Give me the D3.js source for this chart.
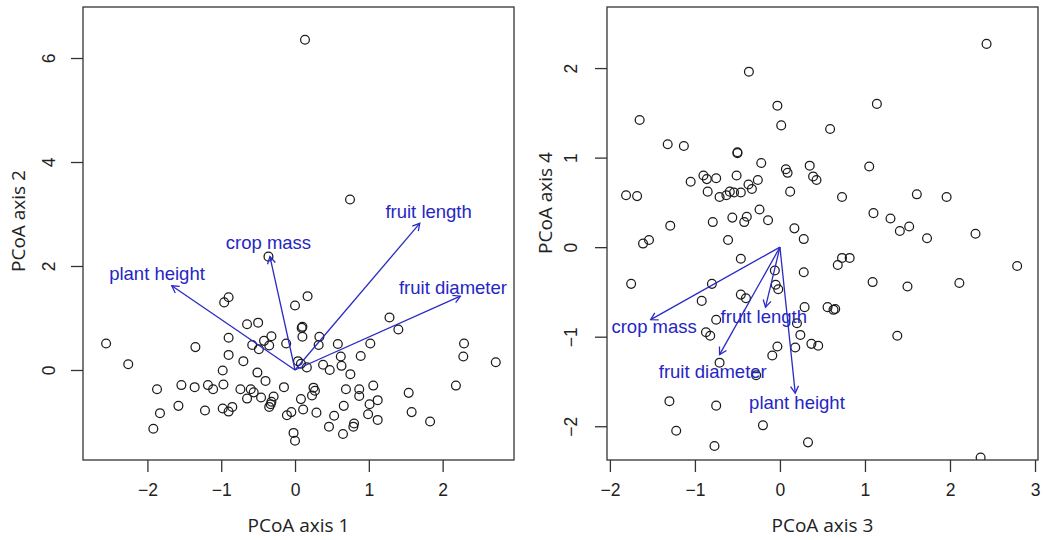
<!DOCTYPE html>
<html>
<head>
<meta charset="utf-8">
<script src="https://cdn.jsdelivr.net/npm/d3@7"></script>
<style>
  body { margin: 0; background: #fff; }
  svg { display: block; }
  .tick-label { font-family: "Liberation Sans", Arial, sans-serif; font-size: 17.5px; fill: #222; }
  .axis-title { font-family: "Open Sans", sans-serif; font-size: 19px; fill: #222; }
  .vec-label { font-family: "Liberation Sans", Arial, sans-serif; font-size: 18.5px; fill: #2626c4; }
</style>
</head>
<body>
<div id="chart"></div>
<script>
// PCoA axis 1 / axis 2 site scores
const pc1 = [0.135, 0.745, -0.36, -0.90, -0.96, 0.00, 0.17, -0.65, -0.50, 0.10, 0.09, 0.10, 0.33, 1.28, 1.40,
  -2.56, -1.35, -0.90, -0.32, -0.42, -0.58, -0.49, -0.35, -0.12, 0.32, 0.58, 1.02, 2.29, 0.62, 0.89, 2.28, 2.72,
  -0.90, -0.70, 0.04, 0.08, -2.26, -0.98, -0.51, 0.16, 0.38, 0.47, 0.63, 0.75, -0.40,
  -1.87, -1.54, -1.36, -1.18, -1.11, -0.97, -0.74, -0.60, -0.56, -0.15, 0.25, 0.27, 0.69, 0.87, 1.06, 1.54, 2.18,
  -0.65, -0.46, -0.29, -0.32, -0.33, -0.35, 0.08, 0.23, 0.87, 1.12, 1.01,
  -1.58, -1.22, -0.98, -0.90, -0.85, -0.11, -0.05, 0.11, 0.29, 0.53, 0.66, 0.99, 1.12, 1.58, 1.83, -1.83,
  -1.92, 0.46, 0.79, 0.80, 0.65, -0.02, 0.00];
const pc2 = [6.35, 3.28, 2.18, 1.40, 1.30, 1.24, 1.42, 0.88, 0.91, 0.83, 0.81, 0.64, 0.64, 1.01, 0.78,
  0.51, 0.44, 0.62, 0.65, 0.56, 0.48, 0.40, 0.47, 0.51, 0.48, 0.50, 0.51, 0.51, 0.26, 0.27, 0.26, 0.15,
  0.29, 0.17, 0.17, 0.12, 0.11, -0.01, -0.05, 0.05, 0.10, 0.00, 0.08, -0.08, -0.21,
  -0.37, -0.29, -0.33, -0.29, -0.37, -0.28, -0.37, -0.37, -0.43, -0.33, -0.34, -0.40, -0.37, -0.37, -0.30, -0.44, -0.30,
  -0.55, -0.53, -0.51, -0.61, -0.66, -0.71, -0.56, -0.49, -0.50, -0.58, -0.66,
  -0.69, -0.78, -0.74, -0.80, -0.71, -0.87, -0.81, -0.76, -0.82, -0.88, -0.69, -0.85, -0.96, -0.81, -0.99, -0.83,
  -1.13, -1.09, -1.09, -1.03, -1.23, -1.21, -1.36];

// PCoA axis 3 / axis 4 site scores
const pc3 = [2.43, -0.365, -0.03, 1.14, -1.65, 0.015, 0.59, -1.32, -1.13, -0.50, -0.50, -0.22, 0.07, 0.09, 0.35,
  0.39, 0.43, 1.05, -0.90, -0.86, -0.75, -0.51, -1.05, -0.26, -0.37, -0.33, -0.85, 0.12, -0.59, -0.54, -0.46,
  -0.63, -0.71, -1.81, -1.68, 0.73, 1.61, 1.96,
  -0.24, 1.10, 1.30, 1.41, 1.52, 1.73, 2.30, -1.29, -0.79, -0.56, -0.39, -0.42, -0.14, 0.17, 0.28, -0.61,
  -1.61, -1.54, -0.46, 0.73, 0.82, 0.68, -0.06, 0.28, 2.79, -1.75, -0.80, -0.05, -0.02, 1.09, 1.50, 2.11,
  -0.46, -0.40, -0.92, 0.29, 0.56, 0.63, 0.65, -0.75, 0.20, -0.87, -0.82, 0.24, 1.38, -0.03, 0.18, 0.37, 0.45,
  -0.09, -0.71, -0.28, -1.30, -0.75, -0.20, -1.22, -0.77, 0.33, 2.36];
const pc4 = [2.27, 1.96, 1.58, 1.60, 1.42, 1.36, 1.32, 1.15, 1.13, 1.05, 1.06, 0.94, 0.87, 0.83, 0.91,
  0.79, 0.75, 0.90, 0.80, 0.76, 0.77, 0.80, 0.73, 0.75, 0.70, 0.65, 0.62, 0.62, 0.62, 0.61, 0.61,
  0.58, 0.56, 0.58, 0.57, 0.56, 0.59, 0.56,
  0.42, 0.38, 0.32, 0.18, 0.23, 0.10, 0.15, 0.24, 0.28, 0.33, 0.34, 0.28, 0.30, 0.21, 0.09, 0.08,
  0.04, 0.08, -0.13, -0.12, -0.12, -0.20, -0.26, -0.28, -0.21, -0.41, -0.41, -0.42, -0.47, -0.39, -0.44, -0.40,
  -0.53, -0.57, -0.60, -0.67, -0.67, -0.70, -0.69, -0.81, -0.85, -0.95, -0.99, -0.98, -0.99, -1.11, -1.12, -1.08, -1.10,
  -1.21, -1.29, -1.43, -1.72, -1.77, -1.99, -2.05, -2.22, -2.18, -2.35];

// trait vectors
const traits = ["plant height", "crop mass", "fruit length", "fruit diameter"];
const vec1 = [-1.67, -0.34, 1.69, 2.24];
const vec2 = [1.62, 2.18, 2.82, 1.42];
const lab1 = [-1.87, -0.36, 1.81, 2.14];
const lab2 = [1.86, 2.46, 3.04, 1.58];
const vec3 = [0.18, -1.52, -0.17, -0.71];
const vec4 = [-1.63, -0.81, -0.67, -1.20];
const lab3 = [0.20, -1.48, -0.19, -0.79];
const lab4 = [-1.74, -0.89, -0.78, -1.39];

// tick values
const ticks1 = [-2, -1, 0, 1, 2];
const ticks2 = [0, 2, 4, 6];
const ticks3 = [-2, -1, 0, 1, 2, 3];
const ticks4 = [-2, -1, 0, 1, 2];

const W = 1043, H = 540;
const svg = d3.select('#chart').append('svg').attr('width', W).attr('height', H);

function panel(cfg) {
  const x = d3.scaleLinear().domain(cfg.xDomain).range([cfg.left, cfg.right]);
  const y = d3.scaleLinear().domain(cfg.yDomain).range([cfg.bottom, cfg.top]);
  const g = svg.append('g');

  g.append('clipPath').attr('id', cfg.id)
    .append('rect')
    .attr('x', cfg.left).attr('y', cfg.top)
    .attr('width', cfg.right - cfg.left).attr('height', cfg.bottom - cfg.top);

  // points
  g.append('g').attr('clip-path', `url(#${cfg.id})`)
    .selectAll('circle')
    .data(d3.range(cfg.xs.length))
    .join('circle')
    .attr('cx', i => x(cfg.xs[i]))
    .attr('cy', i => y(cfg.ys[i]))
    .attr('r', 4.4)
    .attr('fill', 'none')
    .attr('stroke', '#1b1b1b')
    .attr('stroke-width', 1.25);

  // vectors with open arrowheads
  const blue = '#2a2ac6';
  const vg = g.append('g');
  traits.forEach((t, i) => {
    const x0 = x(0), y0 = y(0), x1 = x(cfg.vx[i]), y1 = y(cfg.vy[i]);
    const a = Math.atan2(y1 - y0, x1 - x0);
    const len = 8, spread = Math.PI / 6;
    vg.append('line')
      .attr('x1', x0).attr('y1', y0).attr('x2', x1).attr('y2', y1)
      .attr('stroke', blue).attr('stroke-width', 1.3);
    vg.append('path')
      .attr('d', `M${x1 - len * Math.cos(a - spread)},${y1 - len * Math.sin(a - spread)}L${x1},${y1}L${x1 - len * Math.cos(a + spread)},${y1 - len * Math.sin(a + spread)}`)
      .attr('fill', 'none').attr('stroke', blue).attr('stroke-width', 1.3);
    vg.append('text')
      .attr('class', 'vec-label')
      .attr('x', x(cfg.lx[i])).attr('y', y(cfg.ly[i]))
      .attr('text-anchor', 'middle')
      .attr('dy', '0.35em')
      .text(t);
  });

  // box
  g.append('rect')
    .attr('x', cfg.left).attr('y', cfg.top)
    .attr('width', cfg.right - cfg.left).attr('height', cfg.bottom - cfg.top)
    .attr('fill', 'none').attr('stroke', '#333').attr('stroke-width', 1.3);

  // x axis
  const xa = g.append('g').attr('transform', `translate(0,${cfg.bottom})`)
    .call(d3.axisBottom(x).tickValues(cfg.xt).tickSize(12).tickPadding(12).tickFormat(d => d < 0 ? '\u2212' + Math.abs(d) : d));
  xa.select('.domain').remove();
  xa.selectAll('line').attr('stroke', '#333').attr('stroke-width', 1.3);
  xa.selectAll('text').attr('class', 'tick-label').attr('font-family', null).attr('font-size', null).attr('fill', null);

  // y axis (labels parallel to axis)
  const ya = g.append('g').attr('transform', `translate(${cfg.left},0)`)
    .call(d3.axisLeft(y).tickValues(cfg.yt).tickSize(12).tickFormat(d => d < 0 ? '\u2212' + Math.abs(d) : d));
  ya.select('.domain').remove();
  ya.selectAll('line').attr('stroke', '#333').attr('stroke-width', 1.3);
  ya.selectAll('text')
    .attr('class', 'tick-label').attr('font-family', null).attr('font-size', null).attr('fill', null)
    .attr('x', null).attr('dy', null)
    .attr('text-anchor', 'middle')
    .attr('transform', `translate(${cfg.ytx - cfg.left},0) rotate(-90)`)
    .attr('dy', '0.35em');

  // axis titles
  g.append('text').attr('class', 'axis-title')
    .attr('x', (cfg.left + cfg.right) / 2).attr('y', 532)
    .attr('text-anchor', 'middle').text(cfg.xTitle);
  g.append('text').attr('class', 'axis-title')
    .attr('transform', `translate(${cfg.yTitleX},${cfg.yTitleY}) rotate(-90)`)
    .attr('text-anchor', 'middle').text(cfg.yTitle);
}

panel({
  id: 'clipL', left: 83, right: 514, top: 7, bottom: 460,
  xDomain: [-2.873, 2.967], yDomain: [-1.731, 6.981],
  xs: pc1, ys: pc2, vx: vec1, vy: vec2, lx: lab1, ly: lab2,
  xt: ticks1, yt: ticks2, ytx: 49,
  xTitle: 'PCoA axis 1', yTitle: 'PCoA axis 2', yTitleX: 25, yTitleY: 221
});

panel({
  id: 'clipR', left: 607, right: 1038, top: 7, bottom: 460,
  xDomain: [-2.034, 3.035], yDomain: [-2.377, 2.682],
  xs: pc3, ys: pc4, vx: vec3, vy: vec4, lx: lab3, ly: lab4,
  xt: ticks3, yt: ticks4, ytx: 571,
  xTitle: 'PCoA axis 3', yTitle: 'PCoA axis 4', yTitleX: 552, yTitleY: 203
});
</script>
</body>
</html>
